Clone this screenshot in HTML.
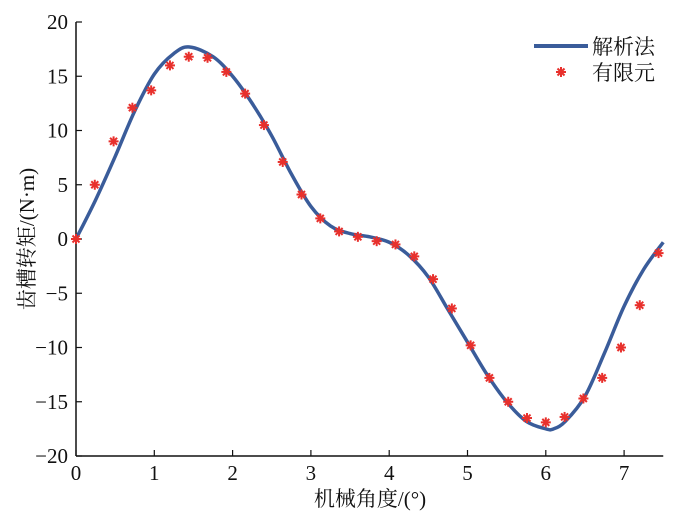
<!DOCTYPE html>
<html><head><meta charset="utf-8"><style>
html,body{margin:0;padding:0;background:#fff;}
svg text{font-family:"Liberation Serif","Noto Serif CJK SC",serif;fill:#111;}
</style></head><body>
<svg id="chart" width="700" height="524" viewBox="0 0 700 524" xmlns="http://www.w3.org/2000/svg">
<g id="axes"></g>
<g id="series"></g>
<g>
<line x1="534" y1="46" x2="588" y2="46" stroke="#3a5c9a" stroke-width="4"/>
<text x="592" y="54" font-size="21">解析法</text>
<g stroke="#e8302c" stroke-width="2">
<line x1="556" y1="72" x2="566" y2="72"/><line x1="561" y1="67" x2="561" y2="77"/>
<line x1="557.5" y1="68.5" x2="564.5" y2="75.5"/><line x1="557.5" y1="75.5" x2="564.5" y2="68.5"/>
</g>
<text x="592" y="80" font-size="21">有限元</text>
</g>
<text x="370" y="506" font-size="21" text-anchor="middle">机械角度/(°)</text>
<text transform="translate(34,239) rotate(-90)" font-size="21" text-anchor="middle">齿槽转矩/(N·m)</text>
</svg>
<script>
const lineX=[0,0.25,0.5,0.75,1,1.25,1.45,1.75,2,2.25,2.5,2.75,3,3.25,3.5,3.75,4,4.25,4.5,4.75,5,5.25,5.5,5.75,6,6.1,6.25,6.5,6.75,7,7.25,7.5];
const lineY=[0,3.6,7.6,11.8,15.2,17.1,17.7,16.8,15,12.5,9.5,6,3,1.2,0.5,0.2,-0.3,-1.5,-3.5,-6.5,-9.5,-12.5,-15,-16.8,-17.5,-17.5,-16.8,-14.5,-10.5,-6.2,-2.8,-0.3];
const femX=[0,0.24,0.48,0.72,0.96,1.2,1.44,1.68,1.92,2.16,2.4,2.64,2.88,3.12,3.36,3.6,3.84,4.08,4.32,4.56,4.8,5.04,5.28,5.52,5.76,6.0,6.24,6.48,6.72,6.96,7.2,7.44];
const femY=[0,5,9,12.1,13.7,16,16.8,16.7,15.4,13.4,10.5,7.1,4.1,1.9,0.7,0.2,-0.2,-0.5,-1.6,-3.7,-6.4,-9.8,-12.8,-15,-16.5,-16.9,-16.4,-14.7,-12.8,-10,-6.1,-1.3];
const xTicks=[0,1,2,3,4,5,6,7];
const yTicks=[-20,-15,-10,-5,0,5,10,15,20];
const NS="http://www.w3.org/2000/svg";
const X0=76,XU=78.3,Y0=239,YU=10.85;
const sx=v=>X0+v*XU, sy=v=>Y0-v*YU;
function mk(t,a,p){const e=document.createElementNS(NS,t);for(const k in a)e.setAttribute(k,a[k]);p.appendChild(e);return e;}
const axes=document.getElementById('axes');
let e=mk('line',{x1:sx(0),y1:sy(-20),x2:sx(0),y2:sy(20),stroke:'#111','stroke-width':1.5},axes);


e=mk('line',{x1:sx(0),y1:sy(-20),x2:sx(7.5),y2:sy(-20),stroke:'#111','stroke-width':1.5},axes);


xTicks.forEach(v=>{
 let t=mk('line',{x1:sx(v),y1:sy(-20),x2:sx(v),y2:sy(-20)-6,stroke:'#111','stroke-width':1.2},axes);
 
 
 let l=mk('text',{x:sx(v),y:sy(-20)+24,'font-size':21,'text-anchor':'middle'},axes);l.textContent=v;
 
 
});
yTicks.forEach(v=>{
 let t=mk('line',{x1:sx(0),y1:sy(v),x2:sx(0)+6,y2:sy(v),stroke:'#111','stroke-width':1.2},axes);
 
 
 let l=mk('text',{x:sx(0)-8,y:sy(v)+7,'font-size':21,'text-anchor':'end'},axes);l.textContent=v<0?'−'+(-v):v;
 
 
});
const ser=document.getElementById('series');
const P=lineX.map((x,i)=>[sx(x),sy(lineY[i])]);
let d='M'+P[0][0]+','+P[0][1];
for(let i=0;i<P.length-1;i++){const p0=P[Math.max(0,i-1)],p1=P[i],p2=P[i+1],p3=P[Math.min(P.length-1,i+2)];
 d+=` C${p1[0]+(p2[0]-p0[0])/6},${p1[1]+(p2[1]-p0[1])/6} ${p2[0]-(p3[0]-p1[0])/6},${p2[1]-(p3[1]-p1[1])/6} ${p2[0]},${p2[1]}`;}
e=mk('path',{d:d,fill:'none',stroke:'#3a5c9a','stroke-width':3.5},ser);


femX.forEach((x,i)=>{
 const cx=sx(x),cy=sy(femY[i]);const g=mk('g',{stroke:'#e8302c','stroke-width':2},ser);
 
 
 mk('line',{x1:cx-5,y1:cy,x2:cx+5,y2:cy},g);
 mk('line',{x1:cx,y1:cy-5,x2:cx,y2:cy+5},g);
 mk('line',{x1:cx-3.5,y1:cy-3.5,x2:cx+3.5,y2:cy+3.5},g);
 mk('line',{x1:cx-3.5,y1:cy+3.5,x2:cx+3.5,y2:cy-3.5},g);
});
</script>
</body></html>
